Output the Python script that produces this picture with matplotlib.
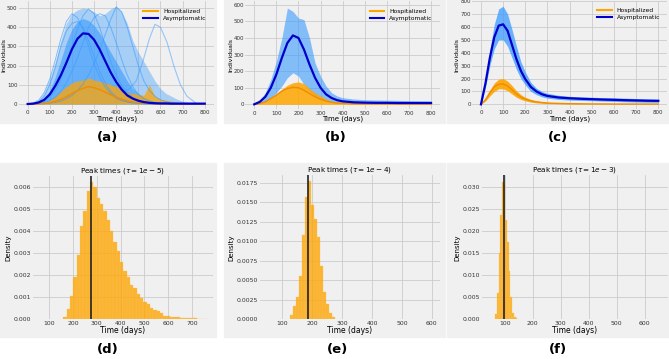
import numpy as np
import matplotlib
matplotlib.use('Agg')
import matplotlib.pyplot as plt
from matplotlib.patches import Rectangle

W, H = 669, 359
BG = '#f0f0f0'
LIGHT = '#3a9bff'
DARK = '#0000cc'
ORANGE = '#ffa500'

# ---- top row: trajectories ----
t_a = [0, 25, 50, 75, 100, 125, 150, 175, 200, 225, 250, 275, 300, 325, 350, 375, 400,
       425, 450, 475, 500, 525, 550, 575, 600, 625, 650, 675, 700, 725, 750, 775, 800]
a_blue_hi = [0, 5, 20, 60, 130, 220, 330, 420, 470, 490, 500, 495, 480, 460, 470, 495, 510,
             480, 420, 330, 270, 220, 170, 120, 80, 55, 40, 25, 15, 8, 4, 2, 1]
a_blue_core = [0, 3, 10, 30, 70, 140, 230, 320, 390, 430, 445, 435, 410, 370, 320, 270, 220,
               170, 120, 80, 55, 35, 22, 14, 9, 6, 4, 3, 2, 1, 1, 1, 0]
a_blue_mean = [0, 2, 8, 22, 50, 95, 150, 215, 285, 340, 368, 365, 335, 285, 225, 165, 115,
               75, 45, 28, 17, 10, 6, 4, 3, 3, 2, 2, 2, 2, 2, 2, 2]
# a few single runs that stand out in (a)
a_runs = [
    [0, 5, 20, 60, 130, 230, 340, 430, 470, 450, 390, 300, 210, 140, 90, 55, 30,
     18, 10, 6, 3, 2, 1, 1, 0, 0, 0, 0, 0, 0, 0, 0, 0],
    [0, 0, 1, 2, 4, 8, 15, 28, 45, 70, 105, 150, 210, 280, 360, 440, 505,
     480, 400, 300, 200, 120, 70, 40, 22, 12, 6, 3, 2, 1, 0, 0, 0],
    [0, 2, 6, 15, 35, 70, 130, 210, 300, 390, 460, 495, 470, 400, 310, 220, 150,
     95, 60, 35, 20, 12, 7, 4, 2, 1, 1, 0, 0, 0, 0, 0, 0],
    [0, 1, 3, 8, 18, 35, 65, 110, 170, 240, 320, 400, 450, 470, 460, 400, 320,
     230, 150, 90, 50, 28, 15, 8, 4, 2, 1, 1, 0, 0, 0, 0, 0],
    [0, 3, 12, 40, 100, 190, 300, 380, 420, 430, 400, 330, 250, 170, 110, 65, 38,
     22, 12, 7, 4, 2, 1, 1, 0, 0, 0, 0, 0, 0, 0, 0, 0],
]
a_or_hi = [0, 1, 3, 8, 20, 40, 65, 90, 110, 120, 125, 135, 125, 118, 110, 100, 90,
           75, 60, 55, 50, 45, 100, 40, 25, 20, 15, 10, 8, 5, 3, 2, 1]
a_or_mean = [0, 0, 1, 3, 7, 14, 24, 38, 55, 70, 82, 90, 85, 75, 62, 48, 35,
             25, 17, 11, 7, 5, 3, 2, 1, 1, 1, 0, 0, 0, 0, 0, 0]
# one late outbreak trajectory visible in (a)
t_late = [430, 460, 490, 520, 550, 575, 600, 630, 660, 690, 720, 760]
a_late = [60, 80, 120, 220, 340, 415, 400, 320, 200, 100, 40, 5]

t_b = [0, 25, 50, 75, 100, 125, 150, 175, 200, 225, 250, 275, 300, 325, 350, 375, 400,
       450, 500, 550, 600, 650, 700, 750, 800]
b_blue_hi = [0, 25, 70, 150, 260, 400, 580, 560, 520, 510, 400, 250, 170, 110, 70, 50, 40,
             32, 28, 26, 25, 24, 22, 21, 20]
b_blue_lo = [0, 5, 15, 35, 70, 110, 160, 190, 170, 120, 80, 50, 30, 18, 10, 7, 5,
             4, 3, 3, 3, 3, 3, 3, 3]
b_blue_mean = [0, 15, 45, 100, 180, 280, 370, 415, 400, 330, 240, 160, 100, 60, 38, 25, 18,
               12, 10, 9, 9, 8, 8, 8, 8]
b_or_hi = [0, 8, 20, 40, 60, 90, 115, 130, 135, 125, 95, 70, 50, 32, 20, 14, 10,
           7, 5, 4, 4, 3, 3, 3, 3]
b_or_mean = [0, 5, 15, 35, 55, 80, 95, 103, 100, 85, 65, 45, 30, 20, 12, 8, 6,
             4, 3, 3, 2, 2, 2, 2, 2]

t_c = [0, 20, 40, 60, 80, 100, 120, 140, 160, 180, 200, 225, 250, 275, 300, 350, 400,
       450, 500, 550, 600, 650, 700, 750, 800]
c_blue_hi = [0, 190, 420, 620, 740, 760, 700, 580, 450, 330, 250, 170, 125, 100, 85, 70, 62,
             58, 55, 52, 50, 48, 45, 42, 40]
c_blue_lo = [0, 130, 300, 430, 500, 500, 450, 360, 270, 200, 150, 100, 75, 58, 48, 38, 33,
             30, 28, 25, 22, 20, 18, 16, 15]
c_blue_mean = [0, 160, 360, 520, 610, 620, 570, 460, 350, 260, 195, 135, 100, 78, 65, 53, 47,
               43, 40, 37, 35, 32, 30, 28, 27]
c_or_hi = [0, 45, 110, 165, 195, 200, 180, 145, 105, 75, 55, 38, 27, 20, 15, 10, 8,
           6, 5, 4, 4, 3, 3, 3, 3]
c_or_lo = [0, 25, 65, 100, 120, 120, 105, 80, 55, 38, 27, 17, 11, 8, 6, 4, 3,
           2, 2, 1, 1, 1, 1, 1, 1]
c_or_mean = [0, 35, 90, 135, 155, 158, 142, 112, 80, 56, 40, 27, 19, 14, 10, 7, 5,
             4, 3, 3, 2, 2, 2, 2, 2]

# ---- bottom row: peak time histograms (bin start, bin width, densities) ----
d_start, d_width = 160, 14
d_dens = [0.0001, 0.00045, 0.00105, 0.0019, 0.0029, 0.0042, 0.0049, 0.0058, 0.0062, 0.0060,
          0.0055, 0.0052, 0.0049, 0.0045, 0.0040, 0.0035, 0.0031, 0.0026, 0.0022, 0.0019,
          0.00155, 0.0014, 0.00115, 0.00095, 0.0008, 0.0007, 0.00053, 0.00042, 0.00038,
          0.00027, 0.00017, 0.00015, 0.00012, 0.0001, 0.0001, 0.00008, 0.00006, 0.00008,
          0.00005, 0.00004, 0.00003, 0.00003, 0.00002]
d_peak = 274

e_start, e_width = 127, 10
e_dens = [0.0005, 0.0017, 0.0028, 0.0055, 0.0108, 0.0157, 0.0177, 0.0147, 0.0128,
          0.0105, 0.0068, 0.0035, 0.0020, 0.0008, 0.0003]
e_peak = 184

f_start, f_width = 66, 6
f_dens = [0.0012, 0.0060, 0.0150, 0.0237, 0.0310, 0.0305, 0.0225, 0.0176, 0.0110,
          0.0050, 0.0015, 0.0005, 0.0002]
f_peak = 97

taus = ['1e-5', '1e-4', '1e-3']
letters = ['(a)', '(b)', '(c)', '(d)', '(e)', '(f)']

plt.rcParams['font.family'] = 'DejaVu Sans'
fig = plt.figure(figsize=(W / 100, H / 100), dpi=100)
fig.patch.set_facecolor('white')


def px_axes(l, r, top, bot):
    return fig.add_axes([l / W, 1 - bot / H, (r - l) / W, (bot - top) / H])


def style(ax, fs, pad=1.5):
    ax.set_facecolor(BG)
    for s in ax.spines.values():
        s.set_visible(False)
    ax.grid(True, color='#cbcbcb', lw=0.6)
    ax.set_axisbelow(True)
    ax.tick_params(length=0, labelsize=fs, pad=pad, colors='#333333')


# gray panel boxes
for x0, x1 in [(0, 216), (224, 445), (447, 669)]:
    fig.add_artist(Rectangle((x0 / W, 1 - 123 / H), (x1 - x0) / W, 123 / H,
                             transform=fig.transFigure, color=BG, zorder=0))
    fig.add_artist(Rectangle((x0 / W, 1 - 337 / H), (x1 - x0) / W, (337 - 163) / H,
                             transform=fig.transFigure, color=BG, zorder=0))

top_boxes = [(18.8, 213.6, 1.3, 108.8), (245.4, 439.9, 1.4, 109.3), (472.1, 667.2, 1.1, 109.1)]
top_ylims = [(-25, 535), (-30, 620), (-37, 800)]

axs = [px_axes(*b) for b in top_boxes]

ax = axs[0]
ax.fill_between(t_a, 0, a_blue_hi, color=LIGHT, alpha=0.4, lw=0)
ax.fill_between(t_a, 0, a_blue_core, color=LIGHT, alpha=0.6, lw=0)
for run in a_runs:
    ax.plot(t_a, run, color=LIGHT, alpha=0.6, lw=0.7)
ax.plot(t_late, a_late, color=LIGHT, alpha=0.5, lw=0.8)
ax.fill_between(t_a, 0, a_or_hi, color=ORANGE, alpha=0.75, lw=0)
ax.plot(t_a, a_or_mean, color='#f08c00', lw=1.0)
ax.plot(t_a, a_blue_mean, color=DARK, lw=1.6)

ax = axs[1]
ax.fill_between(t_b, b_blue_lo, b_blue_hi, color=LIGHT, alpha=0.6, lw=0)
ax.fill_between(t_b, 0, b_or_hi, color=ORANGE, alpha=0.85, lw=0)
ax.plot(t_b, b_or_mean, color='#f08c00', lw=1.0)
ax.plot(t_b, b_blue_mean, color=DARK, lw=1.6)

ax = axs[2]
ax.fill_between(t_c, c_blue_lo, c_blue_hi, color=LIGHT, alpha=0.75, lw=0)
ax.fill_between(t_c, c_or_lo, c_or_hi, color=ORANGE, alpha=0.9, lw=0)
ax.plot(t_c, c_or_mean, color='#f08c00', lw=1.0)
ax.plot(t_c, c_blue_mean, color=DARK, lw=1.6)

for i, ax in enumerate(axs):
    style(ax, 4, pad=1)
    ax.set_xlim(-40, 840)
    ax.set_ylim(*top_ylims[i])
    ax.set_xticks(range(0, 801, 100))
    ax.set_xlabel('Time (days)', fontsize=5, labelpad=0)
    ax.set_ylabel('Individuals', fontsize=4.5)
    # right edge of the rotated label ~12 px left of the axes
    l, r = top_boxes[i][0], top_boxes[i][1]
    ax.yaxis.set_label_coords(-12.3 / (r - l), 0.5)
    h1, = ax.plot([], [], color=ORANGE, lw=1.5, label='Hospitalized')
    h2, = ax.plot([], [], color=DARK, lw=1.5, label='Asymptomatic')
    ax.legend(handles=[h1, h2], loc='upper right', fontsize=4.3, frameon=False,
              handlelength=2.5, borderaxespad=0.8, labelspacing=0.3)

bot_boxes = [(33, 213, 176, 319.3), (260, 440, 175.3, 319.3), (482, 668, 175.3, 319.3)]
bot_xlims = [(32, 788), (25, 627), (18, 684)]
bot_ylims = [(0, 0.00648), (0, 0.01846), (0, 0.0326)]
bot_ticks = [range(100, 701, 100), range(100, 601, 100), range(100, 601, 100)]
hists = [(d_start, d_width, d_dens, d_peak), (e_start, e_width, e_dens, e_peak),
         (f_start, f_width, f_dens, f_peak)]

for i, b in enumerate(bot_boxes):
    ax = px_axes(*b)
    style(ax, 4.4)
    start, width, dens, peak = hists[i]
    lefts = start + width * np.arange(len(dens))
    ax.bar(lefts, dens, width=width, align='edge', color=ORANGE, alpha=0.8,
           edgecolor='#f7c25e', lw=0.3)
    ax.axvline(peak, color='#222222', lw=1.2)
    ax.set_xlim(*bot_xlims[i])
    ax.set_ylim(*bot_ylims[i])
    ax.set_xticks(list(bot_ticks[i]))
    ax.set_xlabel('Time (days)', fontsize=5.5, labelpad=0)
    ax.set_ylabel('Density', fontsize=5, labelpad=1.5)
    ax.set_title(r'Peak times ($\tau = %s$)' % taus[i], fontsize=5.2, pad=2)

for i, (x, y) in enumerate([(108, 137), (336, 137), (558, 137), (108, 350), (337, 350), (558, 350)]):
    fig.text(x / W, 1 - y / H, letters[i], fontsize=9.5, fontweight='bold', ha='center', va='center')

fig.savefig('out.png', dpi=100, facecolor='white')
